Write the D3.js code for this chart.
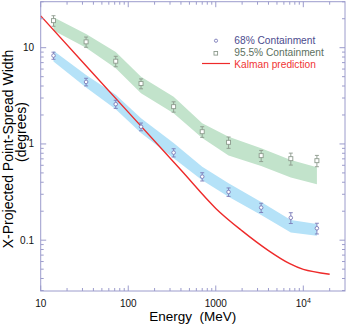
<!DOCTYPE html>
<html>
<head>
<meta charset="utf-8">
<script src="https://cdn.jsdelivr.net/npm/d3@7"></script>
<style>
  body { margin: 0; background: #fff; }
  svg { display: block; font-family: "Liberation Sans", Arial, sans-serif; }
</style>
</head>
<body>
<svg id="chart" width="346" height="325"></svg>
<script>
// energies of the measured points (MeV)
var energies = [14, 33, 72, 140, 330, 700, 1400, 3300, 7200, 14300];

// 68% containment: data and simulated band
var psf68 = [8.28, 4.41, 2.59, 1.51, 0.812, 0.457, 0.317, 0.218, 0.171, 0.133];
var err68 = [0.7, 0.4, 0.25, 0.14, 0.08, 0.045, 0.032, 0.024, 0.022, 0.017];
var band68Hi = [9.3, 5.2, 3.25, 1.85, 1.02, 0.58, 0.39, 0.25, 0.162, 0.147];
var band68Lo = [7.2, 3.85, 2.3, 1.3, 0.71, 0.42, 0.283, 0.183, 0.12, 0.111];

// 95.5% containment: data and simulated band
var psf95 = [19.1, 11.5, 7.24, 4.24, 2.44, 1.34, 1.04, 0.756, 0.703, 0.67];
var err95 = [2.4, 1.4, 0.9, 0.5, 0.3, 0.17, 0.14, 0.1, 0.1, 0.09];
var band95Hi = [20.7, 13.9, 9.0, 5.0, 3.1, 1.64, 1.19, 0.9, 0.68, 0.573];
var band95Lo = [15.1, 10.0, 6.1, 3.37, 2.08, 1.15, 0.76, 0.59, 0.447, 0.381];

// Kalman prediction curve
var kalmanE = [10, 100, 400, 1000, 2000, 4000, 7000, 10000, 20000];
var kalmanW = [21.4, 2.14, 0.535, 0.214, 0.125, 0.078, 0.057, 0.0498, 0.0442];

var xMajor = [10, 100, 1000, 10000];
var yMajor = [0.1, 1, 10];
var yLabels = ["0.1", "1", "10"];

var frameColor = "#9c9ccc";
var svg = d3.select("#chart");

var x = d3.scaleLog().domain([10, 29940]).range([40.7, 345]);
var y = d3.scaleLog().domain([0.02965, 30.06]).range([291, 1.7]);

function minorTicks(scale) {
    var d = scale.domain(), out = [];
    for (var p = Math.floor(Math.log10(d[0])); p <= Math.ceil(Math.log10(d[1])); p++) {
        for (var k = 2; k <= 9; k++) {
            var v = k * Math.pow(10, p);
            if (v >= d[0] && v <= d[1]) out.push(v);
        }
    }
    return out;
}

// bands
var band = function (hi, lo) {
    return d3.area()
        .x(function (d, i) { return x(energies[i]); })
        .y0(function (d, i) { return y(lo[i]); })
        .y1(function (d, i) { return y(hi[i]); });
};
svg.append("path").datum(energies).attr("d", band(band95Hi, band95Lo)).attr("fill", "#c2e3cb");
svg.append("path").datum(energies).attr("d", band(band68Hi, band68Lo)).attr("fill", "#b5e2f8");

// kalman curve
var line = d3.line()
    .x(function (d) { return x(d); })
    .y(function (d, i) { return y(kalmanW[i]); })
    .curve(d3.curveCatmullRom.alpha(0.5));
svg.append("path").datum(kalmanE).attr("d", line)
    .attr("fill", "none").attr("stroke", "#ee2a2a").attr("stroke-width", 1.4);

// error bars + markers
function drawPoints(vals, errs, color, shape) {
    var g = svg.append("g").attr("stroke", color).attr("fill", "none").attr("stroke-width", 0.9);
    energies.forEach(function (e, i) {
        var cx = x(e), cy = y(vals[i]);
        var top = y(vals[i] + errs[i]), bot = y(vals[i] - errs[i]);
        g.append("line").attr("x1", cx).attr("x2", cx).attr("y1", top).attr("y2", bot);
        g.append("line").attr("x1", cx - 2).attr("x2", cx + 2).attr("y1", top).attr("y2", top);
        g.append("line").attr("x1", cx - 2).attr("x2", cx + 2).attr("y1", bot).attr("y2", bot);
        if (shape === "circle") {
            g.append("circle").attr("cx", cx).attr("cy", cy).attr("r", 1.8).attr("fill", "#fff");
        } else {
            g.append("rect").attr("x", cx - 2).attr("y", cy - 2).attr("width", 4).attr("height", 4).attr("fill", "#fff");
        }
    });
}
drawPoints(psf95, err95, "#8c9a8c", "square");
drawPoints(psf68, err68, "#7a7ab8", "circle");

// frame and ticks
var x0 = x.range()[0], x1 = x.range()[1], y0 = y.range()[0], y1 = y.range()[1];
svg.append("rect").attr("x", x0).attr("y", y1).attr("width", x1 - x0).attr("height", y0 - y1)
    .attr("fill", "none").attr("stroke", frameColor).attr("stroke-width", 1);

var ticks = svg.append("g").attr("stroke", frameColor).attr("stroke-width", 1);
function tickX(v, len) {
    ticks.append("line").attr("x1", x(v)).attr("x2", x(v)).attr("y1", y0).attr("y2", y0 - len);
    ticks.append("line").attr("x1", x(v)).attr("x2", x(v)).attr("y1", y1).attr("y2", y1 + len);
}
function tickY(v, len) {
    ticks.append("line").attr("y1", y(v)).attr("y2", y(v)).attr("x1", x0).attr("x2", x0 + len);
    ticks.append("line").attr("y1", y(v)).attr("y2", y(v)).attr("x1", x1).attr("x2", x1 - len);
}
minorTicks(x).forEach(function (v) { tickX(v, 3); });
xMajor.forEach(function (v) { tickX(v, 5.5); });
minorTicks(y).forEach(function (v) { tickY(v, 3); });
yMajor.forEach(function (v) { tickY(v, 5.5); });

// tick labels
var xl = svg.append("g").attr("font-size", 10).attr("text-anchor", "middle").attr("fill", "#111");
xMajor.forEach(function (v) {
    var t = xl.append("text").attr("x", x(v)).attr("y", 307);
    if (v < 10000) t.text(String(v));
    else {
        t.append("tspan").text("10");
        t.append("tspan").attr("font-size", 7).attr("dy", -4).text("4");
    }
});
var yl = svg.append("g").attr("font-size", 10).attr("text-anchor", "end").attr("fill", "#111");
yMajor.forEach(function (v, i) {
    yl.append("text").attr("x", 34).attr("y", y(v) + 3.5).text(yLabels[i]);
});

// axis titles
svg.append("text").attr("x", 192.8).attr("y", 321).attr("text-anchor", "middle")
    .attr("font-size", 13.5).style("white-space", "pre").text("Energy  (MeV)");
svg.append("text").attr("transform", "translate(13,149) rotate(-90)").attr("text-anchor", "middle")
    .attr("font-size", 14).text("X-Projected Point-Spread Width");
svg.append("text").attr("transform", "translate(25.5,132) rotate(-90)").attr("text-anchor", "middle")
    .attr("font-size", 14).text("(degrees)");

// legend
var lg = svg.append("g").attr("font-size", 10.2);
lg.append("circle").attr("cx", 216).attr("cy", 40.7).attr("r", 1.6)
    .attr("fill", "none").attr("stroke", "#7a7ab8").attr("stroke-width", 0.9);
lg.append("text").attr("x", 234.3).attr("y", 44.4).attr("fill", "#4b4b8e").text("68% Containment");
lg.append("rect").attr("x", 214).attr("y", 51.5).attr("width", 3.6).attr("height", 3.6)
    .attr("fill", "none").attr("stroke", "#8c9a8c").attr("stroke-width", 0.9);
lg.append("text").attr("x", 234.3).attr("y", 56.2).attr("fill", "#5c7060").text("95.5% Containment");
lg.append("line").attr("x1", 202).attr("x2", 230).attr("y1", 63.5).attr("y2", 63.5)
    .attr("stroke", "#ee2a2a").attr("stroke-width", 1.2);
lg.append("text").attr("x", 234.3).attr("y", 67.6).attr("fill", "#f03434").text("Kalman prediction");
</script>
</body>
</html>
